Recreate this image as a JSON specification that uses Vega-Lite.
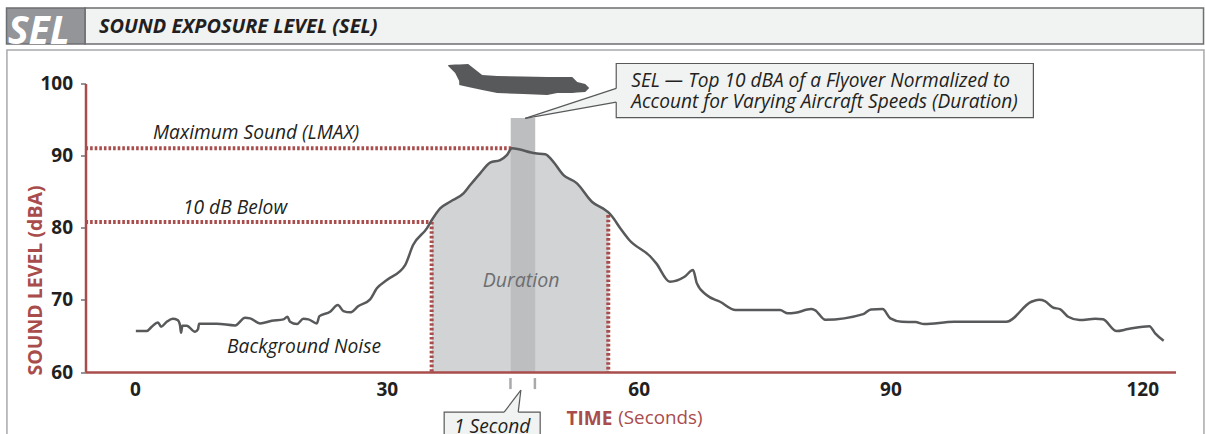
{
"$schema":"https://vega.github.io/schema/vega-lite/v6.json",
"width":1090,"height":288.5,
"autosize":{"type":"none"},
"padding":{"left":85.5,"top":83.5,"right":29.5,"bottom":62},
"background":"white",
"config":{"view":{"stroke":null},"font":"Open Sans"},
"encoding":{
 "x":{"field":"t","type":"quantitative","scale":{"domain":[-5.9,123.96],"nice":false,"zero":false},
  "axis":{"values":[0,30,60,90,120],"grid":false,"ticks":false,"zindex":1,"domainColor":"#a84c4c","domainWidth":2.5,"labelFont":"Open Sans","labelFontWeight":"bold","labelFontSize":19,"labelColor":"#231f20","labelPadding":8,"labelFlush":false,
   "title":"TIME","titleFont":"Open Sans","titleFontSize":19,"titleFontWeight":"bold","titleColor":"#a84c4c","titleX":480.5,"titleY":52,"titleAlign":"left","titleBaseline":"alphabetic","titleAnchor":"start"}},
 "y":{"field":"db","type":"quantitative","scale":{"domain":[60,100],"nice":false,"zero":false},
  "axis":{"values":[60,70,80,90,100],"grid":false,"zindex":1,"domainColor":"#a84c4c","domainWidth":2.5,"tickColor":"#939598","tickWidth":2,"tickSize":5,"labelFont":"Open Sans","labelFontWeight":"bold","labelFontSize":19,"labelColor":"#231f20","labelPadding":8,
   "title":"SOUND LEVEL (dBA)","titleFont":"Open Sans","titleFontSize":19.5,"titleFontWeight":"bold","titleColor":"#a84c4c","titleX":-44,"titleY":196.5,"titleAlign":"center","titleBaseline":"alphabetic","titleAnchor":"middle","titleAngle":-90}}
},
"layer":[
 {"data":{"values":[{"t":-15.26,"t2":127.35,"db":104.65,"db2":50.55}]},
  "mark":{"type":"rect","fill":"white","fillOpacity":0,"stroke":"#a7a9ac","strokeWidth":1.5},
  "encoding":{"x2":{"field":"t2"},"y2":{"field":"db2"}}},
 {"data":{"values":[{"t":-5.96,"t2":127.3,"db":110.47,"db2":105.48}]},
  "mark":{"type":"rect","fill":"#f1f2f2","stroke":"#6d6e71","strokeWidth":1.5},
  "encoding":{"x2":{"field":"t2"},"y2":{"field":"db2"}}},
 {"data":{"values":[{"t":-15.31,"t2":-5.96,"db":110.47,"db2":105.48}]},
  "mark":{"type":"rect","fill":"#939598","stroke":"#6d6e71","strokeWidth":1.5},
  "encoding":{"x2":{"field":"t2"},"y2":{"field":"db2"}}},
 {"data":{"values":[{"t":-15.14,"db":105.48,"label":"SEL"}]},
  "mark":{"type":"text","font":"Open Sans","fontStyle":"italic","fontWeight":"bold","fontSize":39,"color":"white","align":"left","baseline":"alphabetic"},
  "encoding":{"text":{"field":"label"}}},
 {"data":{"values":[{"t":-4.29,"db":107.0,"label":"SOUND EXPOSURE LEVEL (SEL)"}]},
  "mark":{"type":"text","font":"Open Sans","fontStyle":"italic","fontWeight":"bold","fontSize":19.9,"color":"#231f20","align":"left","baseline":"alphabetic"},
  "encoding":{"text":{"field":"label"}}},
 {"data":{"name":"curve","values":[
  {"t":0.1,"db":65.67},{"t":1.39,"db":65.67},{"t":1.99,"db":66.27},{"t":2.74,"db":66.88},{"t":3.1,"db":66.27},{"t":3.78,"db":66.96},{"t":4.49,"db":67.38},{"t":5.09,"db":67.2},{"t":5.36,"db":66.5},{"t":5.48,"db":65.44},{"t":5.64,"db":66.41},{"t":6.16,"db":66.41},{"t":7.15,"db":65.58},{"t":7.51,"db":65.95},{"t":7.63,"db":66.69},{"t":9.74,"db":66.69},{"t":11.92,"db":66.46},{"t":13.11,"db":67.52},{"t":13.71,"db":67.43},{"t":14.9,"db":66.74},{"t":16.29,"db":67.1},{"t":17.68,"db":67.3},{"t":18.15,"db":67.66},{"t":18.47,"db":66.96},{"t":19.27,"db":66.64},{"t":20.06,"db":67.38},{"t":20.66,"db":67.3},{"t":21.66,"db":66.74},{"t":21.97,"db":67.75},{"t":23.24,"db":68.35},{"t":24.16,"db":69.28},{"t":24.83,"db":68.45},{"t":25.63,"db":68.27},{"t":26.62,"db":69.14},{"t":28.01,"db":70.07},{"t":28.81,"db":71.6},{"t":30.0,"db":72.75},{"t":32.18,"db":74.83},{"t":33.13,"db":77.6},{"t":34.77,"db":79.92},{"t":35.36,"db":81.07},{"t":36.35,"db":82.69},{"t":37.54,"db":83.61},{"t":39.13,"db":84.77},{"t":39.93,"db":85.92},{"t":41.12,"db":87.55},{"t":42.31,"db":89.02},{"t":43.5,"db":89.39},{"t":44.3,"db":90.08},{"t":44.9,"db":91.01},{"t":47.68,"db":90.32},{"t":48.87,"db":90.18},{"t":49.67,"db":89.39},{"t":51.05,"db":87.31},{"t":52.65,"db":86.16},{"t":54.43,"db":83.61},{"t":56.02,"db":82.46},{"t":56.43,"db":82.1},{"t":56.82,"db":81.6},{"t":57.81,"db":79.92},{"t":58.88,"db":78.3},{"t":61.42,"db":75.98},{"t":62.1,"db":75.06},{"t":63.72,"db":72.51},{"t":65.47,"db":73.2},{"t":66.48,"db":74.13},{"t":66.94,"db":72.29},{"t":68.09,"db":70.67},{"t":69.7,"db":69.74},{"t":71.55,"db":68.59},{"t":76.84,"db":68.59},{"t":77.77,"db":68.13},{"t":78.67,"db":68.21},{"t":80.54,"db":68.72},{"t":80.99,"db":68.59},{"t":82.24,"db":67.24},{"t":86.76,"db":68.03},{"t":87.68,"db":68.68},{"t":89.06,"db":68.72},{"t":89.99,"db":67.43},{"t":91.36,"db":66.96},{"t":92.97,"db":66.92},{"t":94.03,"db":66.64},{"t":97.58,"db":66.96},{"t":103.8,"db":66.96},{"t":106.79,"db":69.74},{"t":107.71,"db":70.01},{"t":108.4,"db":69.83},{"t":109.33,"db":68.96},{"t":110.25,"db":68.68},{"t":111.17,"db":67.66},{"t":112.55,"db":67.2},{"t":114.4,"db":67.38},{"t":115.32,"db":67.3},{"t":116.93,"db":65.67},{"t":118.31,"db":65.95},{"t":120.85,"db":66.36},{"t":121.54,"db":65.35},{"t":122.55,"db":64.33}
 ]},
  "transform":[{"filter":{"field":"t","range":[35.36,56.43]}},{"calculate":"60","as":"floor"}],
  "mark":{"type":"area","color":"#d1d3d4","interpolate":"monotone"},
  "encoding":{"y2":{"field":"floor"}}},
 {"data":{"values":[{"t":44.76,"t2":47.68,"db":95.22,"db2":60}]},
  "mark":{"type":"rect","fill":"#bcbec0"},
  "encoding":{"x2":{"field":"t2"},"y2":{"field":"db2"}}},
 {"data":{"values":[{"t":-5.9,"t2":44.9,"db":91.01,"db2":91.01},{"t":-5.9,"t2":35.34,"db":80.8,"db2":80.8},{"t":35.34,"t2":35.34,"db":80.8,"db2":60},{"t":56.38,"t2":56.38,"db":81.76,"db2":60}]},
  "mark":{"type":"rule","color":"#a84c4c","strokeWidth":4,"strokeDash":[2.6,2]},
  "encoding":{"x2":{"field":"t2"},"y2":{"field":"db2"}}},
 {"data":{"name":"curve"},
  "mark":{"type":"line","color":"#58595b","strokeWidth":2.5,"interpolate":"monotone"}},
 {"data":{"values":[{"t":37.31,"db":102.57,"db2":102.43},{"t":38.14,"db":102.64,"db2":101.46},{"t":38.62,"db":102.64,"db2":100.35},{"t":38.63,"db":102.64,"db2":99.79},{"t":39.69,"db":102.7,"db2":99.51},{"t":41.36,"db":101.18,"db2":99.1},{"t":43.15,"db":101.04,"db2":98.68},{"t":46.25,"db":100.97,"db2":98.54},{"t":49.11,"db":100.9,"db2":98.41},{"t":50.3,"db":100.9,"db2":98.68},{"t":52.09,"db":100.9,"db2":98.68},{"t":52.68,"db":100.21,"db2":98.75},{"t":53.64,"db":99.93,"db2":98.82},{"t":54.11,"db":99.38,"db2":99.38}]},
  "mark":{"type":"area","color":"#58595b"},
  "encoding":{"y2":{"field":"db2"}}},
 {"data":{"values":[{"t":57.33,"t2":107.03,"db":102.77,"db2":95.26}]},
  "mark":{"type":"rect","fill":"#f1f2f2","stroke":"#58595b","strokeWidth":1.2},
  "encoding":{"x2":{"field":"t2"},"y2":{"field":"db2"}}},
 {"data":{"values":[{"t":46.48,"db":95.17,"db2":95.17},{"t":57.45,"db":99.33,"db2":97.43}]},
  "mark":{"type":"area","color":"#f1f2f2"},
  "encoding":{"y2":{"field":"db2"}}},
 {"data":{"values":[{"t":46.48,"db":95.17,"t2":57.33,"db2":99.33},{"t":46.48,"db":95.17,"t2":57.33,"db2":97.43}]},
  "mark":{"type":"rule","color":"#58595b","strokeWidth":1.2},
  "encoding":{"x2":{"field":"t2"},"y2":{"field":"db2"}}},
 {"data":{"values":[{"t":44.73,"t2":44.73,"db":59.16,"db2":57.63},{"t":47.64,"t2":47.64,"db":59.16,"db2":57.63}]},
  "mark":{"type":"rule","color":"#a7a9ac","strokeWidth":2.5},
  "encoding":{"x2":{"field":"t2"},"y2":{"field":"db2"}}},
 {"data":{"values":[{"t":36.83,"t2":48.27,"db":54.44,"db2":49.86}]},
  "mark":{"type":"rect","fill":"#f1f2f2","stroke":"#58595b","strokeWidth":1.2},
  "encoding":{"x2":{"field":"t2"},"y2":{"field":"db2"}}},
 {"data":{"values":[{"t":43.98,"db":54.44,"db2":54.3},{"t":45.65,"db":56.99,"db2":54.3},{"t":45.97,"db":57.49,"db2":57.49}]},
  "mark":{"type":"area","color":"#f1f2f2"},
  "encoding":{"y2":{"field":"db2"}}},
 {"data":{"values":[{"t":45.97,"db":57.49,"t2":43.98,"db2":54.44},{"t":45.97,"db":57.49,"t2":45.65,"db2":54.44}]},
  "mark":{"type":"rule","color":"#58595b","strokeWidth":1.2},
  "encoding":{"x2":{"field":"t2"},"y2":{"field":"db2"}}},
 {"data":{"values":[{"t":14.42,"db":92.3,"label":"Maximum Sound (LMAX)"},{"t":11.92,"db":81.9,"label":"10 dB Below"},{"t":20.14,"db":62.66,"label":"Background Noise"},{"t":42.55,"db":51.53,"label":"1 Second"}]},
  "mark":{"type":"text","font":"Open Sans","fontStyle":"italic","fontSize":19.2,"color":"#231f20","align":"center","baseline":"alphabetic"},
  "encoding":{"text":{"field":"label"}}},
 {"data":{"values":[{"t":46.0,"db":71.78,"label":"Duration"}]},
  "mark":{"type":"text","font":"Open Sans","fontStyle":"italic","fontSize":19.5,"color":"#6d6e71","align":"center","baseline":"alphabetic"},
  "encoding":{"text":{"field":"label"}}},
 {"data":{"values":[{"t":59.12,"db":99.45,"label":"SEL — Top 10 dBA of a Flyover Normalized to"},{"t":59.12,"db":96.6,"label":"Account for Varying Aircraft Speeds (Duration)"}]},
  "mark":{"type":"text","font":"Open Sans","fontStyle":"italic","fontSize":19.1,"color":"#231f20","align":"left","baseline":"alphabetic"},
  "encoding":{"text":{"field":"label"}}},
 {"data":{"values":[{"t":57.57,"db":52.77,"label":"(Seconds)"}]},
  "mark":{"type":"text","font":"Open Sans","fontSize":18.8,"color":"#a84c4c","align":"left","baseline":"alphabetic"},
  "encoding":{"text":{"field":"label"}}}
]
}
